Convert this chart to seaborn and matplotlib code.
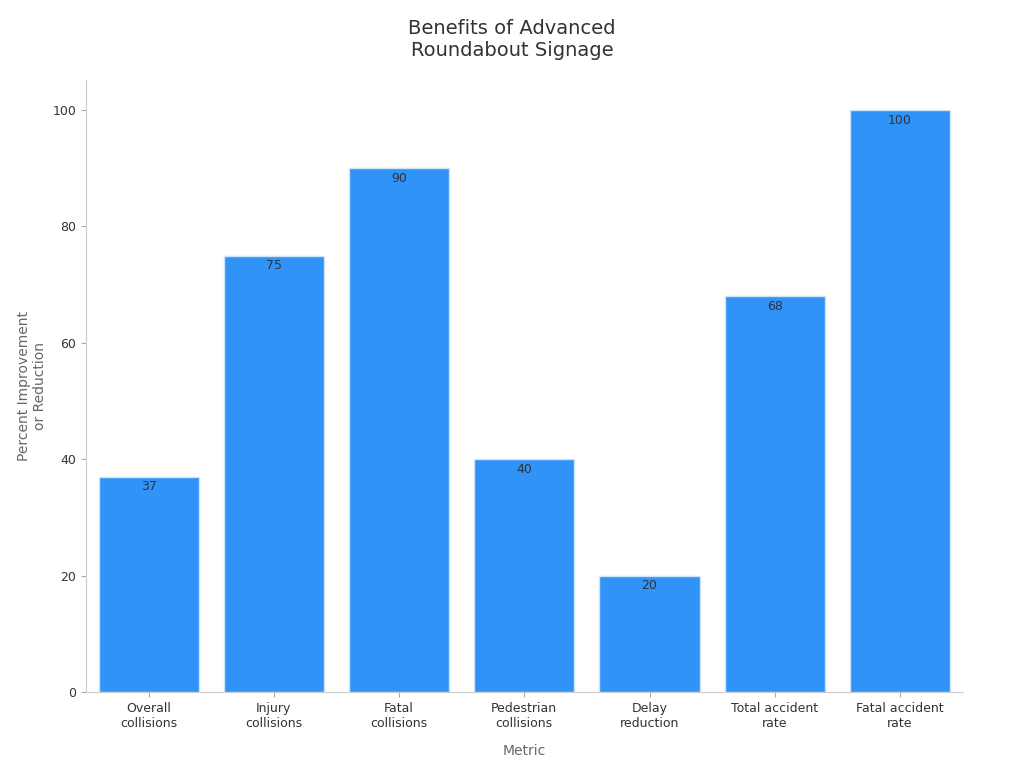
import matplotlib
matplotlib.use("Agg")
import matplotlib.pyplot as plt
import seaborn as sns
import pandas as pd

categories = ["Overall\ncollisions", "Injury\ncollisions", "Fatal\ncollisions",
              "Pedestrian\ncollisions", "Delay\nreduction", "Total accident\nrate",
              "Fatal accident\nrate"]
values = [37, 75, 90, 40, 20, 68, 100]

df = pd.DataFrame({"Metric": categories, "Value": values})

fig = plt.figure(figsize=(10.24, 7.68), dpi=100)
ax = fig.add_axes([0.084, 0.099, 0.856, 0.797])
sns.barplot(data=df, x="Metric", y="Value", color="#3093F8", saturation=1,
            width=0.8, edgecolor="#cfe3f7", linewidth=1, ax=ax)
for i, v in enumerate(values):
    ax.text(i, v - 0.6, str(v), ha="center", va="top", fontsize=9, color="#333333")
ax.set_ylim(0, 105.2)
ax.set_xlim(-0.5, 6.5)
ax.set_yticks([0, 20, 40, 60, 80, 100])
ax.set_xlabel("Metric", fontsize=10, color="#666666", labelpad=10)
ax.set_ylabel("Percent Improvement\nor Reduction", fontsize=10, color="#666666")
ax.tick_params(axis="both", labelsize=9, colors="#333333")
ax.tick_params(axis="both", color="#aaaaaa")
for s in ["top", "right"]:
    ax.spines[s].set_visible(False)
for s in ["left", "bottom"]:
    ax.spines[s].set_color("#cccccc")
fig.suptitle("Benefits of Advanced\nRoundabout Signage", fontsize=14, color="#333333", y=0.975)
fig.savefig("out.png", dpi=100)
